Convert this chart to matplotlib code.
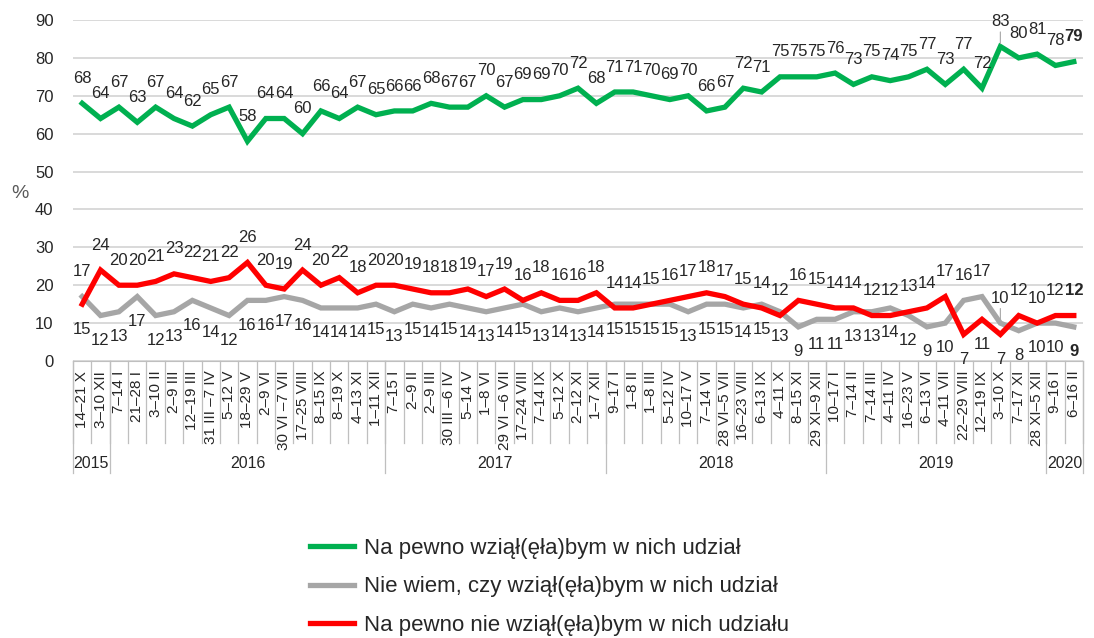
import matplotlib
matplotlib.use('Agg')
import matplotlib.pyplot as plt
import numpy as np

plt.rcParams['font.family'] = ['Liberation Sans', 'DejaVu Sans']

# fieldwork periods of the surveys
periods = ['14–21 X', '3–10 XII',
           '7–14 I', '21–28 I', '3–10 II', '2–9 III', '12–19 III', '31 III –7 IV', '5–12 V',
           '18–29 V', '2–9 VI', '30 VI –7 VII', '17–25 VIII', '8–15 IX', '8–19 X', '4–13 XI',
           '1–11 XII',
           '7–15 I', '2–9 II', '2–9 III', '30 III –6 IV', '5–14 V', '1–8 VI', '29 VI –6 VII',
           '17–24 VIII', '7–14 IX', '5–12 X', '2–12 XI', '1–7 XII',
           '9–17 I', '1–8 II', '1–8 III', '5–12 IV', '10–17 V', '7–14 VI', '28 VI–5 VII',
           '16–23 VIII', '6–13 IX', '4–11 X', '8–15 XI', '29 XI–9 XII',
           '10–17 I', '7–14 II', '7–14 III', '4–11 IV', '16–23 V', '6–13 VI', '4–11 VII',
           '22–29 VIII', '12–19 IX', '3–10 X', '7–17 XI', '28 XI–5 XII',
           '9–16 I', '6–16 II']
years = ['2015', '2016', '2017', '2018', '2019', '2020']
year_counts = [2, 15, 12, 12, 12, 2]

yes = [68, 64, 67, 63, 67, 64, 62, 65, 67, 58, 64, 64, 60, 66, 64, 67, 65, 66, 66, 68,
       67, 67, 70, 67, 69, 69, 70, 72, 68, 71, 71, 70, 69, 70, 66, 67, 72, 71, 75, 75,
       75, 76, 73, 75, 74, 75, 77, 73, 77, 72, 83, 80, 81, 78, 79]
dont_know = [17, 12, 13, 17, 12, 13, 16, 14, 12, 16, 16, 17, 16, 14, 14, 14, 15, 13, 15, 14,
             15, 14, 13, 14, 15, 13, 14, 13, 14, 15, 15, 15, 15, 13, 15, 15, 14, 15, 13, 9,
             11, 11, 13, 13, 14, 12, 9, 10, 16, 17, 10, 8, 10, 10, 9]
no = [15, 24, 20, 20, 21, 23, 22, 21, 22, 26, 20, 19, 24, 20, 22, 18, 20, 20, 19, 18,
      18, 19, 17, 19, 16, 18, 16, 16, 18, 14, 14, 15, 16, 17, 18, 17, 15, 14, 12, 16,
      15, 14, 14, 12, 12, 13, 14, 17, 7, 11, 7, 12, 10, 12, 12]

series_names = ['Na pewno wziął(ęła)bym w nich udział',
                'Nie wiem, czy wziął(ęła)bym w nich udział',
                'Na pewno nie wziął(ęła)bym w nich udziału']

GREEN, GREY, RED = '#00B050', '#A6A6A6', '#FF0000'
TXT = '#262626'
red_below = {0, 48, 49, 50}   # points where the red label sits under the line

fig = plt.figure(figsize=(10.94, 6.38), dpi=100)
ax = fig.add_axes([73 / 1094, 277 / 638, 1010 / 1094, 341 / 638])

x = np.arange(len(periods))
l1, = ax.plot(x, yes, color=GREEN, lw=3.8, solid_joinstyle='miter', zorder=3)
l2, = ax.plot(x, dont_know, color=GREY, lw=3.8, solid_joinstyle='miter', zorder=3)
l3, = ax.plot(x, no, color=RED, lw=3.8, solid_joinstyle='miter', zorder=4)

last = len(x) - 1


def label(i, v, up, **kw):
    ax.annotate(str(v), (i, v), xytext=(0, 12.5 if up else -12.5), textcoords='offset points',
                ha='center', va='bottom' if up else 'top', fontsize=12, color=TXT,
                fontweight='bold' if i == last else 'normal', zorder=5, **kw)


lead = dict(arrowstyle='-', color='#A6A6A6', lw=0.8, shrinkA=0, shrinkB=2)
for i in x:
    label(i, yes[i], True, **(dict(arrowprops=lead) if i == 50 else {}))
    r_up = i not in red_below
    label(i, no[i], r_up)
    label(i, dont_know[i], not r_up, **(dict(arrowprops=lead) if i == 50 else {}))

ax.set_xlim(-0.5, len(x) - 0.5)
ax.set_ylim(0, 90)
ax.set_yticks(np.arange(0, 91, 10))
ax.tick_params(axis='y', length=0, pad=14, labelsize=12, labelcolor=TXT)
ax.set_xticks(x)
ax.set_xticklabels(periods, rotation=90, fontsize=11, color=TXT)
ax.tick_params(axis='x', length=0, pad=7)
ax.yaxis.grid(True, color='#D9D9D9', lw=1.4)
ax.set_axisbelow(True)
for s in ['top', 'right', 'left']:
    ax.spines[s].set_visible(False)
ax.spines['bottom'].set_color('#BFBFBF')

# category boxes and year groups under the axis
tr = ax.get_xaxis_transform()
for b in np.arange(len(x) + 1) - 0.5:
    ax.plot([b, b], [0, -0.24], transform=tr, color='#BFBFBF', lw=0.9, clip_on=False)
edges = np.concatenate([[0], np.cumsum(year_counts)]) - 0.5
for b in edges:
    ax.plot([b, b], [0, -0.328], transform=tr, color='#BFBFBF', lw=0.9, clip_on=False)
for yr, a, b in zip(years, edges[:-1], edges[1:]):
    ax.text((a + b) / 2, -0.302, yr, transform=tr, ha='center', va='center',
            fontsize=11.5, color=TXT)

fig.text(20 / 1094, 1 - 193 / 638, '%', fontsize=14, color='#595959', ha='center', va='center')

fig.legend([l1, l2, l3], series_names, loc='upper left', bbox_to_anchor=(310 / 1094, 1 - 538 / 638),
           frameon=False, fontsize=16, handlelength=2.0, handletextpad=0.42, labelspacing=0.78,
           borderpad=0, borderaxespad=0, labelcolor=TXT)

fig.savefig('out.png', dpi=100, facecolor='white')
